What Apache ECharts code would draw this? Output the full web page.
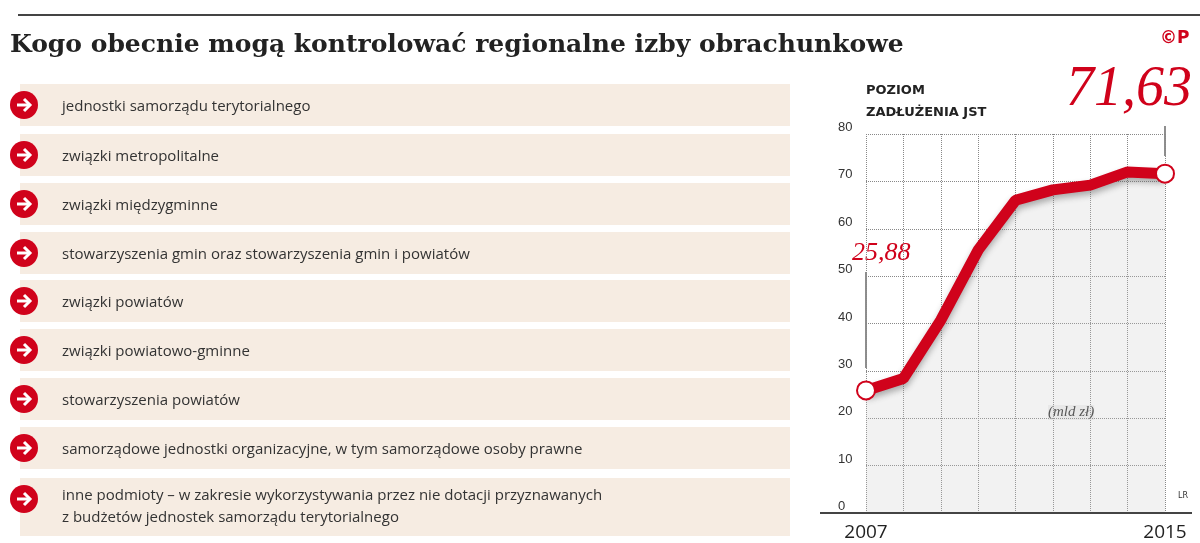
<!DOCTYPE html>
<html><head><meta charset="utf-8">
<script src="https://cdn.jsdelivr.net/npm/echarts@6/dist/echarts.min.js"></script>
<style>html,body{margin:0;background:#fff}#c{width:1200px;height:543px}</style>
</head><body><div id="c"></div>
<script>
var years = ['2007','2008','2009','2010','2011','2012','2013','2014','2015']
var debt = [25.88, 28.4, 40.7, 55.5, 66, 68.2, 69.2, 72, 71.63]
var yTicks = [0,10,20,30,40,50,60,70,80]
var items = [
  'jednostki samorządu terytorialnego',
  'związki metropolitalne',
  'związki międzygminne',
  'stowarzyszenia gmin oraz stowarzyszenia gmin i powiatów',
  'związki powiatów',
  'związki powiatowo-gminne',
  'stowarzyszenia powiatów',
  'samorządowe jednostki organizacyjne, w tym samorządowe osoby prawne',
  'inne podmioty – w zakresie wykorzystywania przez nie dotacji przyznawanych\nz budżetów jednostek samorządu terytorialnego'
]
var rowY = [105,155,204,253,301,350,399,448,507]

var chart = echarts.init(document.getElementById('c'))
var g = [
  {type:'line',shape:{x1:18,y1:15,x2:1200,y2:15},style:{stroke:'#444',lineWidth:2}},
  {type:'text',left:10,top:33,style:{text:'Kogo obecnie mogą kontrolować regionalne izby obrachunkowe',font:'bold 25px "DejaVu Serif", serif',fill:'#222'}},
  {type:'text',left:1160,top:30,style:{text:'©P',font:'bold 17px "DejaVu Sans"',fill:'#d0021b'}},
  {type:'text',left:866,top:80,style:{text:'POZIOM\nZADŁUŻENIA JST',font:'bold 13px "DejaVu Sans"',fill:'#222',lineHeight:22}},
  {type:'text',left:1066,top:62,style:{text:'71,63',font:'italic 56px "Liberation Serif", serif',fill:'#d0021b'}},
  {type:'text',left:852,top:240,style:{text:'25,88',font:'italic 26px "Liberation Serif", serif',fill:'#d0021b'}},
  {type:'line',shape:{x1:866,y1:272,x2:866,y2:368},style:{stroke:'#444',lineWidth:1.2}},
  {type:'line',shape:{x1:1165,y1:126,x2:1165,y2:156},style:{stroke:'#444',lineWidth:1.2}},
  {type:'line',z:100,shape:{x1:820,y1:513,x2:1192,y2:513},style:{stroke:'#444',lineWidth:2}},
  {type:'text',left:1048,top:405,style:{text:'(mld zł)',font:'italic 15px "Liberation Serif", serif',fill:'#333',backgroundColor:'#f2f2f2'}},
  {type:'text',left:1178,top:492,style:{text:'LR',font:'8px "DejaVu Sans"',fill:'#333'}}
]
items.forEach(function(t,i){
  var h = i==8 ? 58 : 42
  var cy = rowY[i]-(i==8?8:0)
  g.push({type:'rect',shape:{x:20,y:rowY[i]-h/2,width:770,height:h},style:{fill:'#f6ece2'}})
  g.push({type:'circle',shape:{cx:24,cy:cy,r:14},style:{fill:'#d0021b'}})
  g.push({type:'polyline',x:24,y:cy,shape:{points:[[-7,0],[6,0]]},style:{stroke:'#fff',lineWidth:3}})
  g.push({type:'polyline',x:24,y:cy,shape:{points:[[0,-6],[6,0],[0,6]]},style:{stroke:'#fff',lineWidth:3,fill:null}})
  g.push({type:'text',left:62,top:rowY[i]-(i==8?22:9),style:{text:t,font:'15px "Open Sans"',fill:'#333',lineHeight:22}})
})

chart.setOption({
  animation:false,
  graphic:g,
  grid:{left:866,right:35,top:134,bottom:30},
  xAxis:{type:'category',data:years,boundaryGap:false,
    axisLine:{show:false},axisTick:{show:false},
    axisLabel:{interval:0,margin:10,fontSize:19,color:'#222',fontFamily:'Open Sans',
      formatter:function(v,i){return (i==0||i==8)?v:''}},
    splitLine:{show:true,lineStyle:{type:'dotted',color:'#888'}}},
  yAxis:{type:'value',min:0,max:80,interval:10,
    axisLine:{show:false},axisTick:{show:false},
    axisLabel:{margin:28,align:'left',verticalAlign:'bottom',fontSize:13,color:'#333',
      formatter:function(v){return yTicks.indexOf(v)>=0?v:''}},
    splitLine:{lineStyle:{type:'dotted',color:'#888'}}},
  series:[{type:'line',data:debt,symbol:'circle',
    symbolSize:function(v,p){return (p.dataIndex==0||p.dataIndex==8)?18:0},
    itemStyle:{color:'#fff',borderColor:'#d0021b',borderWidth:2},
    lineStyle:{color:'#d0021b',width:11,shadowColor:'rgba(0,0,0,0.3)',shadowBlur:6,shadowOffsetY:4},
    areaStyle:{color:'rgba(200,200,200,0.35)'}
  }]
})
</script></body></html>
